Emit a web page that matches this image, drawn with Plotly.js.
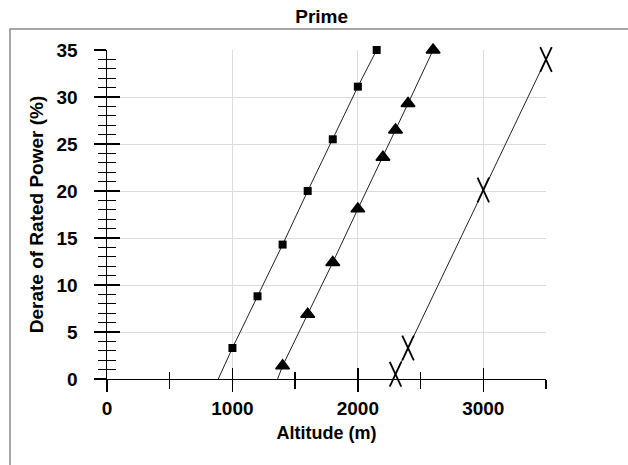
<!DOCTYPE html>
<html>
<head>
<meta charset="utf-8">
<script src="https://cdn.plot.ly/plotly-3.0.1.min.js"></script>
<style>
  html, body { margin: 0; padding: 0; background: #fff; }
  #chart { width: 628px; height: 465px; }
</style>
</head>
<body>
<div id="chart"></div>
<script>
// ---- data ----
const chartTitle = 'Prime';
const xTitle = 'Altitude (m)';
const yTitle = 'Derate of Rated Power (%)';

// series 1: squares
const squareAlt    = [1000, 1200, 1400, 1600, 1800, 2000, 2150];
const squareDerate = [3.3, 8.8, 14.3, 20.0, 25.5, 31.1, 35.0];
// its curve, which runs down to the axis
const squareLineAlt    = [887, 1000, 1200, 1400, 1600, 1800, 2000, 2150];
const squareLineDerate = [0, 3.3, 8.8, 14.3, 20.0, 25.5, 31.1, 35.0];

// series 2: triangles
const triAlt    = [1400, 1600, 1800, 2000, 2200, 2300, 2400, 2600];
const triDerate = [1.4, 6.9, 12.4, 18.1, 23.6, 26.5, 29.3, 35.0];
const triLineAlt    = [1360, 1400, 1600, 1800, 2000, 2200, 2300, 2400, 2600];
const triLineDerate = [0, 1.4, 6.9, 12.4, 18.1, 23.6, 26.5, 29.3, 35.0];

// series 3: X marks
const xAlt    = [2300, 2400, 3000, 3500];
const xDerate = [0.5, 3.3, 20.1, 34.0];

// axes
const xRange = [0, 3500];
const yRange = [0, 35];

const FONT = 'Liberation Sans, Arial, Helvetica, sans-serif';
const lineStyle = {color: '#222', width: 1};
const boldFont = (s) => ({family: FONT, size: s, weight: 'bold', color: '#000'});

// a narrow "X" built from two slanted strokes
const xStroke = (ang) => ({
  x: xAlt, y: xDerate, mode: 'markers', cliponaxis: false,
  xaxis: 'x2', yaxis: 'y2', hoverinfo: 'skip', showlegend: false,
  marker: {symbol: 'line-ns', size: 19.5, angle: ang, color: '#000',
           line: {color: '#000', width: 1.8}}
});

const traces = [
  {x: squareLineAlt, y: squareLineDerate, mode: 'lines', line: lineStyle,
   hoverinfo: 'skip', showlegend: false},
  {x: squareAlt, y: squareDerate, mode: 'markers', cliponaxis: false,
   marker: {symbol: 'square', size: 8, color: '#000'}, showlegend: false},
  {x: triLineAlt, y: triLineDerate, mode: 'lines', line: lineStyle,
   hoverinfo: 'skip', showlegend: false},
  {x: triAlt, y: triDerate, mode: 'markers', cliponaxis: false,
   marker: {symbol: 'triangle-up', size: 12, color: '#000',
            line: {color: '#000', width: 1.5}}, showlegend: false},
  {x: xAlt, y: xDerate, mode: 'lines', xaxis: 'x2', yaxis: 'y2',
   line: lineStyle, hoverinfo: 'skip', showlegend: false},
  xStroke(25),
  xStroke(-25)
];

const layout = {
  width: 628, height: 465, autosize: false,
  margin: {l: 107, r: 82, t: 50, b: 86, pad: 0},
  paper_bgcolor: '#fff', plot_bgcolor: '#fff',
  font: {family: FONT, color: '#000'},
  title: {text: chartTitle, x: 0.489, xref: 'paper', xanchor: 'center',
          y: 0.965, yref: 'container', yanchor: 'middle', font: boldFont(19)},
  xaxis: {
    range: xRange, tick0: 0, dtick: 1000, ticks: 'outside', ticklen: 12,
    tickwidth: 1.3, tickcolor: '#000',
    minor: {ticks: 'outside', dtick: 500, tick0: 0, ticklen: 9, tickwidth: 1.3, tickcolor: '#000', showgrid: false},
    showline: true, linecolor: '#000', linewidth: 1.3,
    showgrid: true, gridcolor: '#dcdcdc', gridwidth: 1, zeroline: false,
    tickfont: boldFont(19),
    title: {text: xTitle, standoff: 8, font: boldFont(18)},
    fixedrange: true
  },
  yaxis: {
    range: yRange, tick0: 0, dtick: 5, ticks: 'outside', ticklen: 12,
    tickwidth: 2, tickcolor: '#000',
    minor: {ticks: 'outside', dtick: 1, tick0: 0, ticklen: 8, tickwidth: 1.2, tickcolor: '#000', showgrid: false},
    showline: true, linecolor: '#000', linewidth: 1.5,
    showgrid: true, gridcolor: '#dcdcdc', gridwidth: 1, zeroline: false,
    tickfont: boldFont(19),
    ticklabelstandoff: 12,
    title: {text: yTitle, standoff: 8, font: boldFont(19)},
    fixedrange: true
  },
  xaxis2: {
    overlaying: 'x', anchor: 'y2', side: 'bottom', range: xRange,
    tick0: 0, dtick: 1000, ticks: 'inside', ticklen: 11, tickwidth: 1.3, tickcolor: '#000',
    minor: {ticks: 'inside', dtick: 500, tick0: 0, ticklen: 7, tickwidth: 1.3, tickcolor: '#000', showgrid: false},
    showticklabels: false, showgrid: false, showline: false, zeroline: false, fixedrange: true
  },
  yaxis2: {
    overlaying: 'y', anchor: 'x2', side: 'left', range: yRange,
    tick0: 0, dtick: 5, ticks: 'inside', ticklen: 13, tickwidth: 2, tickcolor: '#000',
    minor: {ticks: 'inside', dtick: 1, tick0: 0, ticklen: 9, tickwidth: 1.2, tickcolor: '#000', showgrid: false},
    showticklabels: false, showgrid: false, showline: false, zeroline: false, fixedrange: true
  },
  shapes: [{
    type: 'rect', xref: 'paper', yref: 'paper',
    x0: -0.221, x1: 2, y0: -2, y1: 1.0638,
    line: {color: '#8a8a8a', width: 1.5}, fillcolor: 'rgba(0,0,0,0)', layer: 'below'
  }]
};

Plotly.newPlot('chart', traces, layout, {displayModeBar: false, staticPlot: true});
</script>
</body>
</html>
